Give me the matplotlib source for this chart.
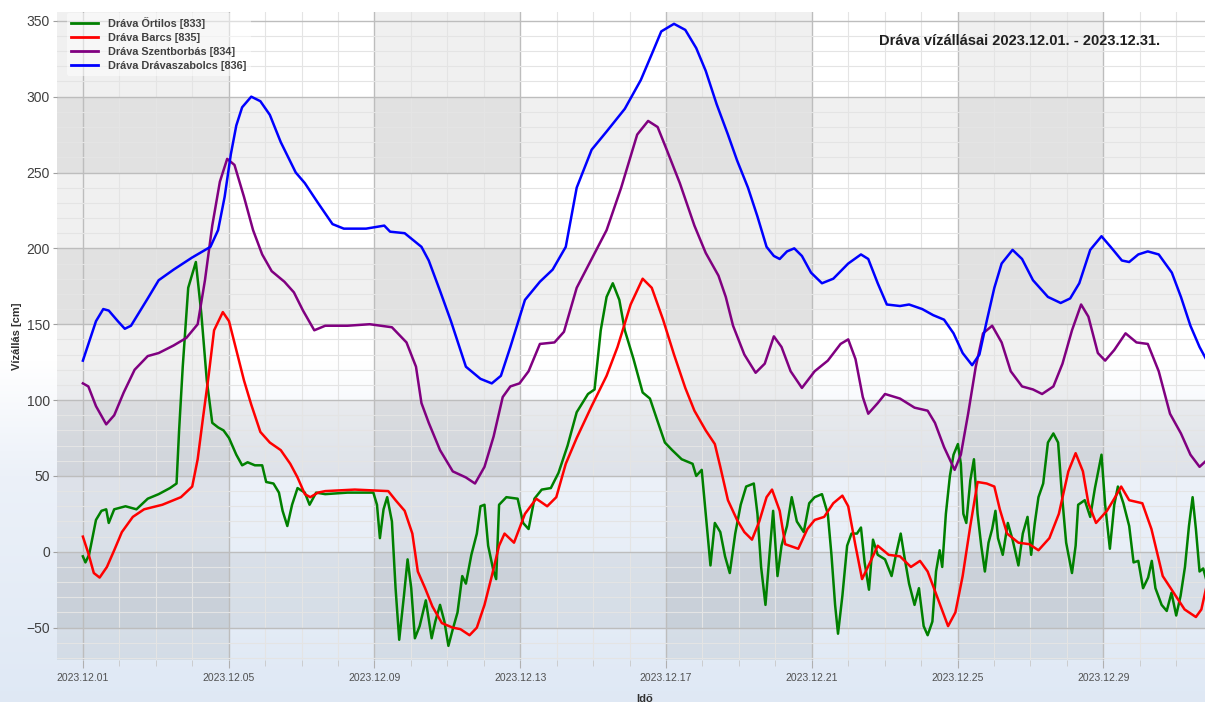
import numpy as np
import matplotlib
matplotlib.use('Agg')
import matplotlib.pyplot as plt
import matplotlib.dates as mdates
from matplotlib.ticker import MultipleLocator

plt.rcParams['font.family'] = ['Liberation Sans', 'DejaVu Sans']

start = np.datetime64('2023-12-01T00:00')

# Dráva Őrtilos [833]  (days from 2023.12.01, cm)
ortilos_days = [0.00, 0.07, 0.17, 0.36, 0.51, 0.64, 0.71, 0.86, 1.17, 1.47, 1.78, 2.08, 2.39, 2.57,
                2.64, 2.74, 2.89, 3.10, 3.25, 3.40, 3.55, 3.71, 3.86, 4.01, 4.21, 4.37, 4.52, 4.72,
                4.92, 5.03, 5.23, 5.38, 5.48, 5.61, 5.74, 5.89, 6.09, 6.22, 6.40, 6.65, 7.26, 7.97,
                8.07, 8.15, 8.25, 8.35, 8.48, 8.58, 8.68, 8.81, 8.91, 9.01, 9.11, 9.24, 9.41, 9.57,
                9.67, 9.80, 9.92, 10.03, 10.15, 10.28, 10.41, 10.51, 10.66, 10.81, 10.91, 11.02,
                11.12, 11.27, 11.34, 11.42, 11.62, 11.93, 12.08, 12.23, 12.39, 12.59, 12.84, 13.05,
                13.30, 13.55, 13.86, 14.04, 14.21, 14.37, 14.54, 14.72, 14.87, 15.11, 15.36, 15.56,
                15.77, 15.97, 16.17, 16.43, 16.73, 16.83, 16.98, 17.09, 17.22, 17.34, 17.49, 17.62,
                17.75, 17.90, 18.05, 18.20, 18.41, 18.51, 18.61, 18.73, 18.86, 18.94, 19.06, 19.17,
                19.32, 19.45, 19.59, 19.78, 19.93, 20.08, 20.28, 20.44, 20.54, 20.64, 20.72, 20.84,
                20.97, 21.09, 21.24, 21.35, 21.45, 21.57, 21.68, 21.81, 22.01, 22.19, 22.31, 22.44,
                22.54, 22.67, 22.82, 22.94, 23.07, 23.18, 23.31, 23.41, 23.51, 23.58, 23.68, 23.79,
                23.89, 24.01, 24.09, 24.16, 24.24, 24.35, 24.45, 24.55, 24.65, 24.75, 24.85, 24.95,
                25.04, 25.11, 25.24, 25.38, 25.51, 25.67, 25.79, 25.92, 26.02, 26.12, 26.22, 26.35,
                26.48, 26.63, 26.76, 26.86, 26.98, 27.14, 27.24, 27.31, 27.49, 27.64, 27.77, 27.95,
                28.05, 28.18, 28.30, 28.40, 28.55, 28.71, 28.83, 28.96, 29.09, 29.23, 29.33, 29.43,
                29.60, 29.74, 29.87, 30.00, 30.12, 30.24, 30.35, 30.45, 30.54, 30.64, 30.74, 30.82]
ortilos_cm = [-3, -7, -2, 21, 27, 28, 19, 28, 30, 28, 35, 38, 42, 45,
              80, 122, 174, 191, 157, 113, 85, 82, 80, 75, 64, 57, 59, 57,
              57, 46, 45, 39, 27, 17, 31, 42, 39, 31, 39, 38, 39, 39,
              31, 9, 28, 36, 20, -24, -58, -29, -5, -24, -57, -49, -32, -57,
              -46, -35, -46, -62, -51, -40, -16, -21, -2, 12, 30, 31,
              4, -13, -18, 31, 36, 35, 19, 15, 35, 41, 42, 52,
              70, 92, 104, 107, 146, 168, 177, 166, 146, 127, 105, 101,
              86, 72, 67, 61, 58, 50, 54, 25, -9, 19, 13, -3,
              -14, 12, 31, 43, 45, 25, -10, -35, 4, 27, -16, 4,
              17, 36, 20, 13, 32, 36, 38, 25, -2, -35, -54, -29,
              4, 12, 12, 16, -7, -25, 8, -2, -5, -16, -2, 12,
              -3, -21, -35, -24, -49, -55, -46, -13, 1, -10, 25, 50,
              64, 71, 58, 25, 19, 47, 61, 25, 4, -13, 6, 15,
              27, 9, -2, 19, 8, -9, 12, 23, -2, 19, 36, 45,
              72, 78, 72, 39, 6, -14, 4, 31, 34, 23, 42, 64,
              31, 2, 31, 43, 32, 17, -7, -6, -24, -17, -6, -24,
              -35, -39, -27, -42, -29, -10, 17, 36, 15, -13, -11, -18]

# Dráva Barcs [835]
barcs_days = [0.00, 0.15, 0.30, 0.46, 0.66, 0.86, 1.07, 1.37, 1.68, 2.18, 2.69, 3.00, 3.15, 3.30,
              3.45, 3.60, 3.84, 4.01, 4.21, 4.42, 4.62, 4.87, 5.13, 5.43, 5.69, 5.89, 6.09, 6.24,
              6.45, 6.65, 7.46, 8.38, 8.58, 8.83, 9.04, 9.19, 9.39, 9.59, 9.85, 10.15, 10.36, 10.61,
              10.81, 11.02, 11.22, 11.42, 11.57, 11.83, 12.13, 12.44, 12.74, 12.99, 13.25, 13.55,
              13.96, 14.37, 14.67, 15.03, 15.36, 15.61, 15.92, 16.22, 16.53, 16.78, 17.09, 17.34,
              17.49, 17.70, 17.95, 18.15, 18.36, 18.56, 18.76, 18.91, 19.12, 19.27, 19.63, 19.88,
              20.08, 20.34, 20.59, 20.84, 21.00, 21.20, 21.38, 21.60, 21.81, 22.11, 22.42, 22.72,
              22.97, 23.18, 23.43, 23.74, 23.94, 24.14, 24.35, 24.55, 24.80, 25.01, 25.16, 25.36,
              25.67, 25.97, 26.22, 26.52, 26.78, 27.04, 27.24, 27.44, 27.59, 27.80, 28.10, 28.30,
              28.49, 28.71, 29.07, 29.32, 29.63, 29.93, 30.23, 30.54, 30.69, 30.82]
barcs_cm = [10, -1, -14, -17, -10, 1, 13, 23, 28, 31, 36, 43, 61, 89,
            116, 146, 158, 152, 133, 113, 97, 79, 72, 67, 58, 49, 38, 36,
            39, 40, 41, 40, 34, 27, 12, -13, -24, -36, -47, -50, -51, -55,
            -50, -35, -16, 4, 12, 6, 25, 35, 30, 36, 58, 75,
            96, 116, 135, 163, 180, 174, 153, 130, 108, 93, 80, 71,
            56, 34, 21, 13, 8, 20, 36, 41, 27, 5, 2, 15,
            21, 23, 32, 37, 30, 4, -18, -7, 4, -2, -3, -10,
            -6, -13, -29, -49, -40, -16, 17, 46, 45, 43, 28, 12,
            6, 5, 1, 9, 25, 53, 65, 53, 32, 19, 27, 35,
            43, 34, 32, 15, -16, -27, -38, -43, -38, -24]

# Dráva Szentborbás [834]
szentborbas_days = [0.00, 0.15, 0.36, 0.64, 0.86, 1.12, 1.42, 1.78, 2.08, 2.49, 2.84, 3.15, 3.35,
                    3.55, 3.76, 3.96, 4.16, 4.42, 4.67, 4.92, 5.18, 5.53, 5.79, 6.04, 6.35, 6.65,
                    7.26, 7.87, 8.48, 8.88, 9.14, 9.29, 9.49, 9.80, 10.15, 10.51, 10.76, 11.02,
                    11.27, 11.52, 11.73, 11.98, 12.23, 12.54, 12.94, 13.20, 13.55, 13.96, 14.37,
                    14.77, 15.21, 15.51, 15.77, 16.02, 16.38, 16.78, 17.09, 17.44, 17.64, 17.84,
                    18.15, 18.46, 18.71, 18.96, 19.17, 19.42, 19.73, 20.08, 20.44, 20.79, 21.00,
                    21.20, 21.40, 21.55, 21.81, 22.01, 22.42, 22.82, 23.18, 23.38, 23.63, 23.92,
                    24.09, 24.29, 24.50, 24.70, 24.95, 25.21, 25.46, 25.77, 26.07, 26.32, 26.63,
                    26.88, 27.14, 27.39, 27.59, 27.85, 28.05, 28.30, 28.61, 28.91, 29.22, 29.52,
                    29.83, 30.13, 30.39, 30.64, 30.82]
szentborbas_cm = [111, 109, 96, 84, 90, 105, 120, 129, 131, 136, 141, 150, 179,
                  215, 244, 259, 255, 234, 212, 196, 185, 178, 171, 159, 146, 149,
                  149, 150, 148, 138, 122, 98, 85, 67, 53, 49, 45, 56,
                  76, 102, 109, 111, 119, 137, 138, 145, 174, 193, 212,
                  240, 275, 284, 280, 265, 243, 215, 197, 182, 168, 149,
                  130, 118, 124, 142, 135, 119, 108, 119, 126, 137, 140,
                  127, 102, 91, 98, 104, 101, 95, 93, 85, 69, 54,
                  64, 91, 122, 144, 149, 138, 119, 109, 107, 104, 109,
                  124, 146, 163, 155, 131, 126, 133, 144, 138, 137, 119,
                  91, 78, 64, 56, 60]

# Dráva Drávaszabolcs [836]
dravaszabolcs_days = [0.00, 0.36, 0.56, 0.71, 0.96, 1.15, 1.32, 1.78, 2.08, 2.49, 3.00, 3.50, 3.71,
                      3.89, 4.06, 4.21, 4.37, 4.62, 4.87, 5.13, 5.43, 5.84, 6.09, 6.45, 6.85, 7.16,
                      7.77, 8.27, 8.43, 8.83, 9.29, 9.49, 9.80, 10.10, 10.51, 10.91, 11.22, 11.47,
                      11.73, 12.13, 12.54, 12.89, 13.25, 13.55, 13.96, 14.37, 14.87, 15.31, 15.61,
                      15.87, 16.22, 16.53, 16.83, 17.09, 17.39, 17.70, 17.95, 18.25, 18.51, 18.76,
                      18.96, 19.12, 19.32, 19.52, 19.73, 19.98, 20.28, 20.59, 21.00, 21.35, 21.55,
                      21.81, 22.06, 22.42, 22.67, 23.03, 23.33, 23.63, 23.89, 24.14, 24.40, 24.60,
                      24.80, 25.01, 25.21, 25.51, 25.77, 26.07, 26.48, 26.83, 27.09, 27.34, 27.64,
                      27.95, 28.20, 28.51, 28.71, 28.96, 29.22, 29.52, 29.88, 30.13, 30.39, 30.64,
                      30.82]
dravaszabolcs_cm = [126, 152, 160, 159, 152, 147, 149, 167, 179, 186, 194, 201, 212,
                    234, 262, 281, 293, 300, 297, 288, 270, 250, 243, 230, 216, 213,
                    213, 215, 211, 210, 201, 192, 172, 152, 122, 114, 111, 116,
                    135, 166, 178, 186, 201, 240, 265, 277, 292, 311, 328,
                    343, 348, 344, 332, 317, 295, 275, 258, 240, 221, 201,
                    195, 193, 198, 200, 195, 184, 177, 180, 190, 196, 193,
                    177, 163, 162, 163, 160, 156, 153, 144, 131, 123, 130,
                    152, 174, 190, 199, 193, 179, 168, 164, 167, 177, 199,
                    208, 201, 192, 191, 196, 198, 196, 184, 168, 149, 135,
                    127]

labels = ['Dráva Őrtilos [833]', 'Dráva Barcs [835]',
          'Dráva Szentborbás [834]', 'Dráva Drávaszabolcs [836]']
colors = ['#008000', '#ff0000', '#800080', '#0000ff']
series = [(ortilos_days, ortilos_cm), (barcs_days, barcs_cm),
          (szentborbas_days, szentborbas_cm), (dravaszabolcs_days, dravaszabolcs_cm)]


def to_time(days):
    minutes = np.round(np.array(days) * 1440).astype(int)
    return start + minutes.astype('timedelta64[m]')


fig = plt.figure(figsize=(12.05, 7.02), dpi=100)

# figure background: white on top, light blue towards the bottom
bg = fig.add_axes([0, 0, 1, 1], zorder=-5)
rows = np.arange(702)
top = np.array([1.0, 1.0, 1.0])
mid = np.array([0.925, 0.945, 0.975])
bot = np.array([0.875, 0.912, 0.960])
grad = np.zeros((702, 1, 3))
for i in rows:
    if i < 360:
        c = top
    elif i < 476:
        c = top + (mid - top) * (i - 360) / 116
    else:
        c = mid + (bot - mid) * (i - 476) / 226
    grad[i, 0] = c
bg.imshow(grad, aspect='auto', extent=[0, 1, 0, 1])
bg.axis('off')

ax = fig.add_axes([57 / 1205, 1 - 659.5 / 702, 1 - 57 / 1205, (659.5 - 11.7) / 702])
ax.set_facecolor('none')

for (d, v), lab, col in zip(series, labels, colors):
    ax.plot(to_time(d), v, color=col, lw=1.8, label=lab, zorder=3)

t0 = mdates.date2num(start)
for a, b in [(-2, 4), (8, 12), (16, 20), (24, 28)]:
    ax.axvspan(t0 + a, t0 + b, color='black', alpha=0.06, lw=0, zorder=0.2)
for a, b in [(250, 300), (150, 200), (50, 100), (-50, 0)]:
    ax.axhspan(a, b, color='black', alpha=0.06, lw=0, zorder=0.2)

ax.set_xlim(t0 - 0.71, t0 + 30.79)
ax.set_ylim(-71, 356)

ax.xaxis.set_major_locator(mdates.DayLocator(bymonthday=[1, 5, 9, 13, 17, 21, 25, 29]))
ax.xaxis.set_minor_locator(mdates.DayLocator())
ax.xaxis.set_major_formatter(mdates.DateFormatter('%Y.%m.%d'))
ax.yaxis.set_major_locator(MultipleLocator(50))
ax.yaxis.set_minor_locator(MultipleLocator(10))

ax.set_axisbelow(True)
ax.grid(which='major', color='#bdbdbd', lw=1.0)
ax.grid(which='minor', color='#e4e4e4', lw=0.8)
for s in ax.spines.values():
    s.set_visible(False)

ax.tick_params(axis='y', which='major', length=3, color='#a0a0a0', labelsize=10,
               labelcolor='#404040', pad=2)
ax.tick_params(axis='y', which='minor', length=0)
ax.tick_params(axis='x', which='major', length=5.5, color='#b0b0b0', labelsize=7.5,
               labelcolor='#505050', pad=4)
ax.tick_params(axis='x', which='minor', length=4.5, color='#c8c8c8')

leg = ax.legend(loc='upper left', bbox_to_anchor=(67 / 1205, 1 - 13 / 702),
                bbox_transform=fig.transFigure, frameon=True, fontsize=7.8,
                handlelength=2.5, handletextpad=0.9, labelspacing=0.37,
                borderpad=0.4, borderaxespad=0)
leg.get_frame().set_facecolor('white')
leg.get_frame().set_alpha(0.5)
leg.get_frame().set_edgecolor('none')
for txt in leg.get_texts():
    txt.set_fontweight('bold')
    txt.set_color('#404040')
for ln in leg.get_lines():
    ln.set_linewidth(2)

fig.text(1020 / 1205, 1 - 41 / 702, 'Dráva vízállásai 2023.12.01. - 2023.12.31.',
         fontsize=10.5, fontweight='bold', color='#202020', ha='center', va='center')
fig.text(17 / 1205, 1 - 336 / 702, 'Vízállás [cm]', rotation=90, fontsize=8,
         fontweight='bold', color='#303030', ha='center', va='center')
fig.text(645 / 1205, 1 - 694 / 702, 'Idő', fontsize=8, fontweight='bold',
         color='#303030', ha='center', va='top')

fig.savefig('out.png', dpi=100)
